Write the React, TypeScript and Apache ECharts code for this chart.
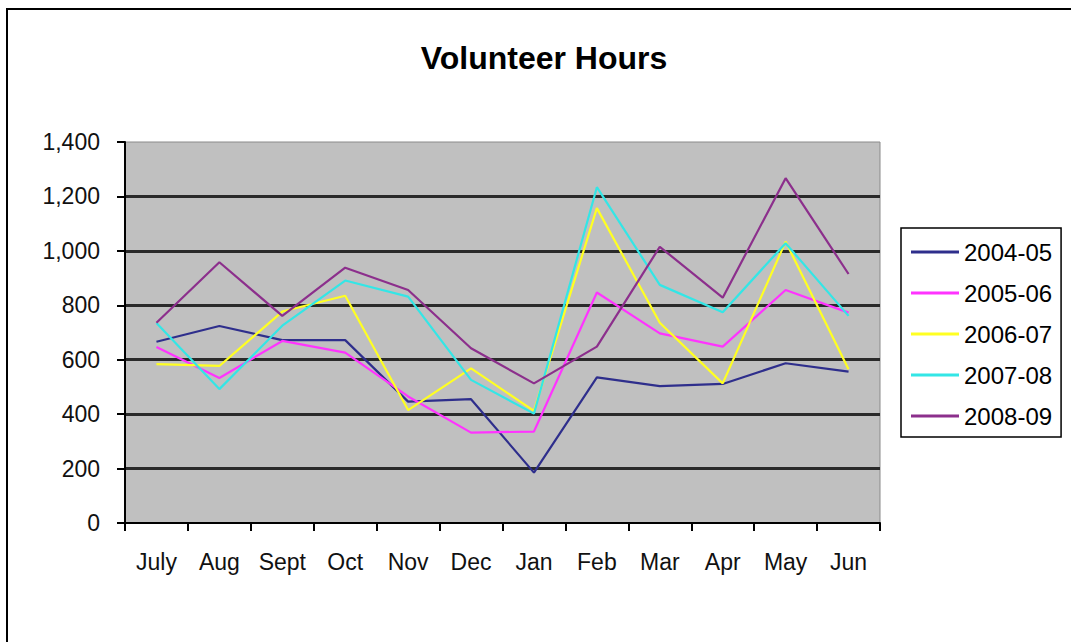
import React, { useEffect, useRef } from "react";
import * as echarts from "echarts";

const chartTitle = "Volunteer Hours";
const months = ["July", "Aug", "Sept", "Oct", "Nov", "Dec", "Jan", "Feb", "Mar", "Apr", "May", "Jun"];
const seriesNames = ["2004-05", "2005-06", "2006-07", "2007-08", "2008-09"];
const seriesColors = ["#2e2e8c", "#ff33ff", "#ffff22", "#33e6e6", "#8c2f8c"];
const hours0405 = [666, 724, 672, 672, 446, 455, 185, 535, 503, 511, 587, 556];
const hours0506 = [647, 533, 669, 626, 465, 332, 336, 847, 697, 648, 856, 773];
const hours0607 = [584, 577, 777, 835, 415, 568, 412, 1157, 736, 513, 1034, 565];
const hours0708 = [735, 492, 725, 891, 832, 526, 402, 1234, 875, 774, 1028, 761];
const hours0809 = [736, 958, 761, 938, 856, 642, 513, 648, 1015, 828, 1267, 915];
const seriesData = [hours0405, hours0506, hours0607, hours0708, hours0809];
const yMin = 0;
const yMax = 1400;
const yStep = 200;

const FONT = "'Liberation Sans', Arial, sans-serif";

export default function App() {
  const ref = useRef<HTMLDivElement>(null);
  useEffect(() => {
    if (!ref.current) return;
    const chart = echarts.init(ref.current, undefined, { renderer: "svg" });
    chart.setOption({
      animation: false,
      backgroundColor: "#ffffff",
      graphic: [
        {
          type: "line",
          shape: { x1: 6, y1: 9, x2: 1071, y2: 9 },
          style: { stroke: "#000", lineWidth: 2 },
        },
        {
          type: "line",
          shape: { x1: 7, y1: 8, x2: 7, y2: 642 },
          style: { stroke: "#000", lineWidth: 2 },
        },
        {
          type: "text",
          x: 544,
          y: 58,
          style: {
            text: chartTitle,
            textAlign: "center",
            textVerticalAlign: "middle",
            fontFamily: FONT,
            fontSize: 32,
            fontWeight: "bold",
            fill: "#000",
          },
        },
      ],
      grid: {
        left: 125,
        top: 142,
        right: 191,
        bottom: 119,
        show: true,
        backgroundColor: "#c0c0c0",
        borderColor: "#8a8a8a",
        borderWidth: 1,
      },
      legend: {
        orient: "vertical",
        left: 901,
        top: 228,
        data: seriesNames,
        icon: "rect",
        backgroundColor: "#ffffff",
        borderColor: "#000",
        borderWidth: 1.5,
        padding: [12, 9, 9, 10],
        itemWidth: 48,
        itemHeight: 3,
        itemGap: 17,
        textStyle: { fontFamily: FONT, fontSize: 24, lineHeight: 24, color: "#000" },
      },
      xAxis: {
        type: "category",
        data: months,
        boundaryGap: true,
        axisLine: { show: true, lineStyle: { color: "#000", width: 2 } },
        axisTick: { show: true, length: 8, lineStyle: { color: "#000", width: 2 } },
        axisLabel: { fontFamily: FONT, fontSize: 23, color: "#111", margin: 27, interval: 0 },
        splitLine: { show: false },
      },
      yAxis: {
        type: "value",
        min: yMin,
        max: yMax,
        interval: yStep,
        axisLine: { show: true, lineStyle: { color: "#000", width: 2 } },
        axisTick: { show: true, length: 8, lineStyle: { color: "#000", width: 2 } },
        axisLabel: {
          fontFamily: FONT,
          fontSize: 23,
          color: "#111",
          margin: 25,
          formatter: (v: number) => v.toLocaleString("en-US"),
        },
        splitLine: {
          show: true,
          showMinLine: false,
          showMaxLine: false,
          lineStyle: { color: "#2a2a2a", width: 3 },
        },
      },
      series: seriesNames.map((name, i) => ({
        name,
        type: "line",
        data: seriesData[i],
        symbol: "none",
        showSymbol: false,
        color: seriesColors[i],
        itemStyle: { color: seriesColors[i] },
        lineStyle: { color: seriesColors[i], width: 2.2 },
      })),
    });
    return () => chart.dispose();
  }, []);
  return (
    <div
      ref={ref}
      style={{ position: "absolute", left: 0, top: 0, width: 1071, height: 642 }}
    />
  );
}
